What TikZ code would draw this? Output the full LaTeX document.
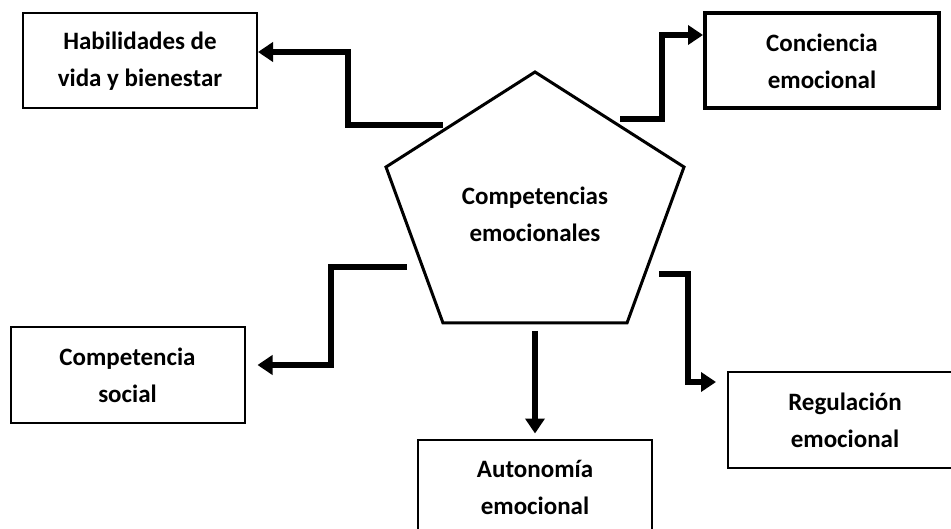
\documentclass[tikz,border=0pt]{standalone}
\usepackage{fontspec}
\setmainfont{Carlito}
\usepackage{tikz}
\usetikzlibrary{calc}
\usetikzlibrary{arrows.meta}

\begin{document}
\begin{tikzpicture}[x=1pt, y=-1pt,
  caja/.style={draw, line width=2pt, minimum width=234pt, minimum height=95pt, align=center, inner sep=0pt},
  texto/.style={font=\bfseries\fontsize{25}{37}\selectfont, align=center},
  flecha/.style={line width=6pt, -{Triangle[length=15pt, width=19pt]}}]

\useasboundingbox (0, 0) rectangle (951, 529);

% pentagono central
\coordinate (P_1) at (535, 72);
\coordinate (P_2) at (684, 167);
\coordinate (P_3) at (627, 323);
\coordinate (P_4) at (443, 323);
\coordinate (P_5) at (386, 167);
\draw [line width=3pt] (P_1)--(P_2)--(P_3)--(P_4)--(P_5)--cycle;
\node [texto] (comp) at (535, 214) {Competencias\\emocionales};

% cajas
\node [caja, texto] (hab) at (140, 61) {Habilidades de\\vida y bienestar};
\node [caja, texto, line width=4pt] (con) at (822, 61) {Conciencia\\emocional};
\node [caja, texto] (soc) at (127.5, 375) {Competencia\\social};
\node [caja, texto] (aut) at (535, 487) {Autonomía\\emocional};
\node [caja, texto] (reg) at (845, 420) {Regulación\\emocional};

% salidas y quiebres
\coordinate (S_1) at (443, 125);
\coordinate (K_1) at (348, 52);
\coordinate (S_2) at (620, 119);
\coordinate (K_2) at (662, 35);
\coordinate (S_3) at (407, 267);
\coordinate (K_3) at (331, 365);
\coordinate (S_4) at (659, 274);
\coordinate (K_4) at (688, 382);
\coordinate (S_5) at (535, 331);

\draw [flecha] (S_1) -| (K_1) -- (K_1 -| hab.east);
\draw [flecha] (S_2) -| (K_2) -- (K_2 -| con.west);
\draw [flecha, shorten >=12pt] (S_3) -| (K_3) -- (K_3 -| soc.east);
\draw [flecha, shorten >=11pt] (S_4) -| (K_4) -- (K_4 -| reg.west);
\draw [flecha, shorten >=5pt] (S_5) -- (aut.north);

\end{tikzpicture}
\end{document}
